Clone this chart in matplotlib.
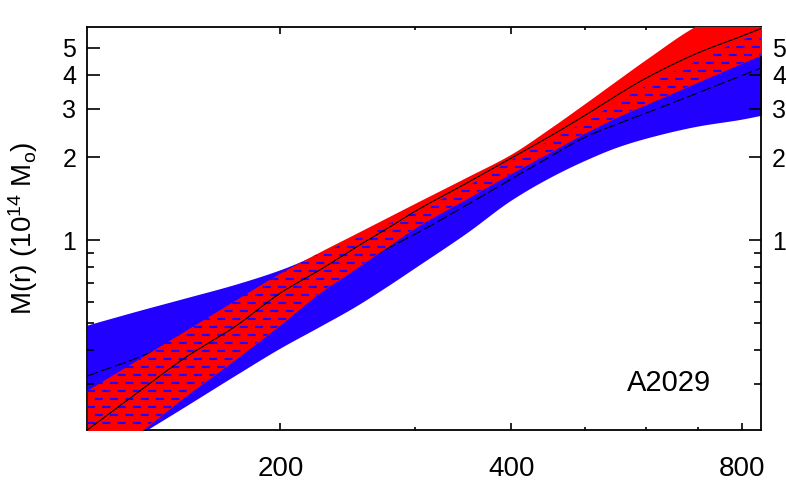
import numpy as np
import matplotlib
matplotlib.use('Agg')
import matplotlib.pyplot as plt
from matplotlib.patches import Polygon
from matplotlib.ticker import NullFormatter, FixedLocator, FixedFormatter

plt.rcParams['font.family'] = ['Liberation Sans', 'DejaVu Sans']
plt.rcParams['mathtext.fontset'] = 'custom'
plt.rcParams['mathtext.rm'] = 'Liberation Sans'
plt.rcParams['mathtext.it'] = 'Liberation Sans:italic'
plt.rcParams['mathtext.default'] = 'regular'
plt.rcParams['lines.scale_dashes'] = False

# ---- data ----
radius = [112, 130, 150, 175, 200, 225, 250, 275, 300, 350, 400, 450, 500, 550, 600, 700, 800, 850]
blue_upper = [0.493, 0.554, 0.617, 0.694, 0.783, 0.896, 1.011, 1.141, 1.277, 1.568, 1.957, 2.312, 2.710, 3.177, 3.646, 4.498, 5.351, 5.721]
blue_lower = [0.151, 0.195, 0.249, 0.325, 0.407, 0.487, 0.574, 0.679, 0.798, 1.066, 1.401, 1.697, 1.957, 2.182, 2.351, 2.599, 2.756, 2.850]
blue_best = [0.322, 0.374, 0.442, 0.531, 0.623, 0.712, 0.807, 0.930, 1.054, 1.343, 1.669, 2.015, 2.371, 2.644, 2.898, 3.425, 3.968, 4.236]
red_upper = [0.286, 0.368, 0.469, 0.609, 0.762, 0.908, 1.054, 1.207, 1.366, 1.697, 2.057, 2.559, 3.151, 3.818, 4.543, 6.046, 7.145, 7.640]
red_lower = [0.142, 0.197, 0.270, 0.371, 0.494, 0.644, 0.785, 0.942, 1.111, 1.417, 1.749, 2.092, 2.458, 2.800, 3.113, 3.746, 4.398, 4.721]
red_best = [0.205, 0.279, 0.374, 0.489, 0.644, 0.780, 0.938, 1.099, 1.277, 1.614, 1.990, 2.391, 2.850, 3.369, 3.883, 4.783, 5.515, 5.896]

x_major = [200, 400, 800]
x_major_labels = ['200', '400', '800']
x_minor = [300, 500, 600, 700]
y_major = [1, 2, 3, 4, 5]
y_major_labels = ['1', '2', '3', '4', '5']
y_minor = [0.3, 0.4, 0.5, 0.6, 0.7, 0.8, 0.9]
cluster_name = 'A2029'

BLUE = '#2200ff'
RED = '#ff0000'


def pchip(x, y, xn):
    """Monotone cubic (Fritsch-Carlson) interpolation."""
    x = np.asarray(x, float); y = np.asarray(y, float)
    h = np.diff(x); d = np.diff(y) / h
    m = np.zeros_like(y)
    for i in range(1, len(y) - 1):
        if d[i - 1] * d[i] > 0:
            w1 = 2 * h[i] + h[i - 1]; w2 = h[i] + 2 * h[i - 1]
            m[i] = (w1 + w2) / (w1 / d[i - 1] + w2 / d[i])
    m[0] = d[0]; m[-1] = d[-1]
    idx = np.clip(np.searchsorted(x, xn) - 1, 0, len(x) - 2)
    t = (xn - x[idx]) / h[idx]
    h00 = 2 * t**3 - 3 * t**2 + 1; h10 = t**3 - 2 * t**2 + t
    h01 = -2 * t**3 + 3 * t**2; h11 = t**3 - t**2
    return h00 * y[idx] + h10 * h[idx] * m[idx] + h01 * y[idx + 1] + h11 * h[idx] * m[idx + 1]


r = np.array(radius, float)
xf = np.geomspace(r[0], r[-1], 800)
def li(vals):
    return 10 ** pchip(np.log10(r), np.log10(np.array(vals, float)), np.log10(xf))

bu, bl, bb = li(blue_upper), li(blue_lower), li(blue_best)
ru, rl, rb = li(red_upper), li(red_lower), li(red_best)

W, H = 786, 486
fig = plt.figure(figsize=(W / 100, H / 100), dpi=100)
L, R, T, B = 87.3, 761.0, 27.0, 430.0
ax = fig.add_axes([L / W, 1 - B / H, (R - L) / W, (B - T) / H])
ax.set_xscale('log')
ax.set_yscale('log')

ax.fill_between(xf, bl, bu, color=BLUE, lw=0, zorder=1)
ax.plot(xf, bb, color='black', lw=0.8, dashes=(8.0, 2.6), zorder=2)
ax.fill_between(xf, rl, ru, color=RED, lw=0, zorder=3)

# overlap hatching (blue dashes)
lo = np.maximum(bl, rl)
hi = np.minimum(bu, ru)
verts = list(zip(xf, lo)) + list(zip(xf[::-1], hi[::-1]))
clip = Polygon(verts, closed=True, transform=ax.transData, facecolor='none', edgecolor='none')
for k, py in enumerate(np.arange(423.0, 26.0, -8.0)):
    ya = (B - py) / (B - T)
    off = 0.0 if k % 2 == 0 else 5.4
    ln, = ax.plot([0, 1], [ya, ya], transform=ax.transAxes, color=BLUE, lw=1.5,
                  linestyle=(off, (5.8, 5.2)), solid_capstyle='butt', zorder=4)
    ln.set_clip_path(clip)

ax.plot(xf, rb, color='black', lw=0.8, zorder=5)

ax.set_xlim(112, 847)
ax.set_ylim(0.205, 5.95)

ax.xaxis.set_major_locator(FixedLocator(x_major))
ax.xaxis.set_major_formatter(FixedFormatter(x_major_labels))
ax.xaxis.set_minor_locator(FixedLocator(x_minor))
ax.xaxis.set_minor_formatter(NullFormatter())
ax.yaxis.set_major_locator(FixedLocator(y_major))
ax.yaxis.set_major_formatter(FixedFormatter(y_major_labels))
ax.yaxis.set_minor_locator(FixedLocator(y_minor))
ax.yaxis.set_minor_formatter(NullFormatter())

ax.tick_params(which='both', direction='in', top=True, right=True, width=1.2, color='black')
ax.tick_params(axis='x', which='major', length=5, labelsize=20, pad=19)
ax.tick_params(axis='x', which='minor', length=2.5)
ax.tick_params(axis='y', which='major', length=9, labelsize=18, pad=8, labelright=True)
ax.tick_params(axis='y', which='minor', length=5)
for s in ax.spines.values():
    s.set_linewidth(1.3)

ax.text(0.864, (B - 391) / (B - T), cluster_name, transform=ax.transAxes,
        ha='center', va='baseline', fontsize=21)

fig.text(23 / W, 1 - 228.5 / H, r'M(r) (10$^{14}$ M$_{o}$)', rotation=90,
         ha='center', va='center', fontsize=20)

fig.savefig('out.png', dpi=100)
